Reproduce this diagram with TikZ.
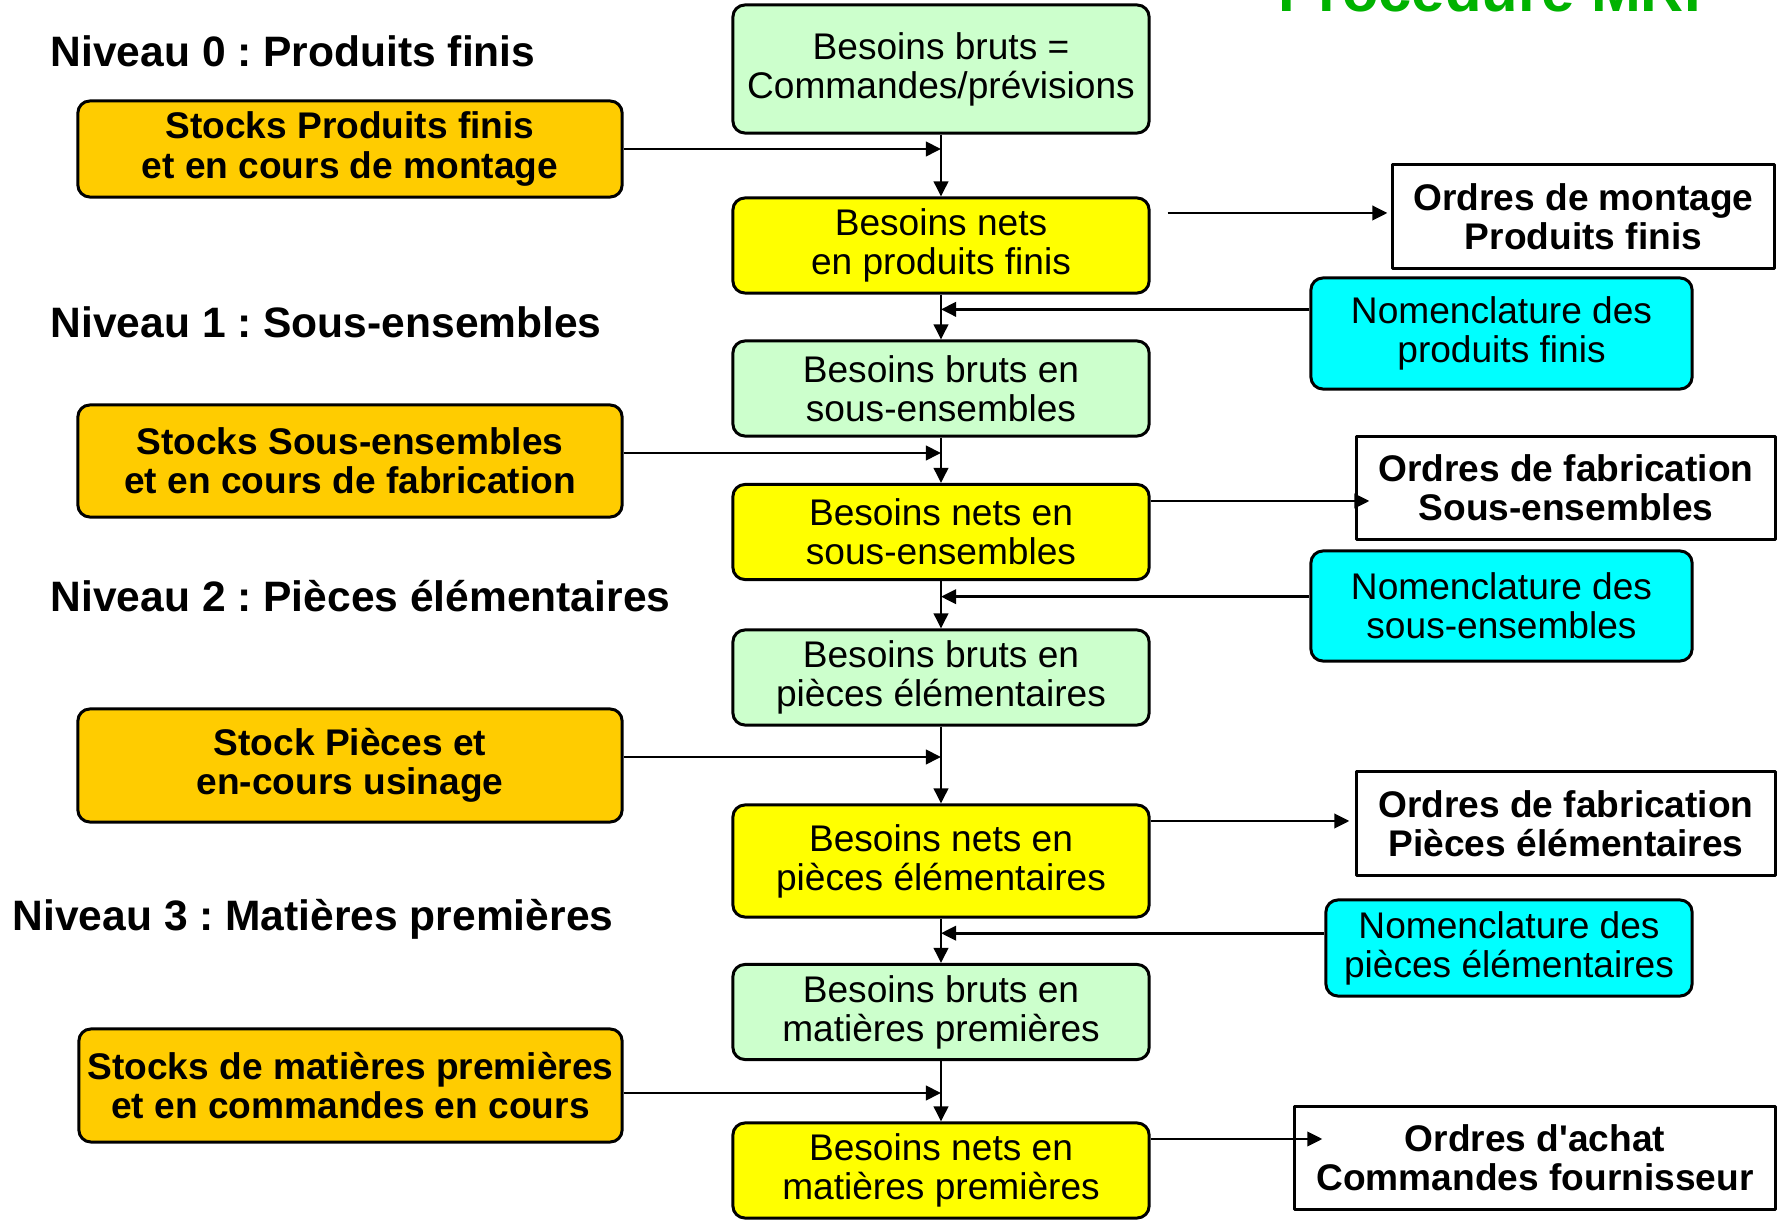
\documentclass[tikz,border=0pt]{standalone}
\usepackage{fontspec}
\setmainfont{Liberation Sans}
\usetikzlibrary{calc,arrows.meta}
\frenchspacing

\definecolor{vertclair}{RGB}{204,255,204}
\definecolor{jaunevif}{RGB}{255,255,0}
\definecolor{orstock}{RGB}{255,204,0}
\definecolor{cyanvif}{RGB}{0,255,255}
\definecolor{vertmrp}{RGB}{0,178,0}

\begin{document}
\begin{tikzpicture}[x={(0.01cm,0cm)}, y={(0cm,-0.01cm)},line join=round,line cap=round,font={\fontsize{10.55}{11.1}\selectfont},
	boite/.style={draw, line width=.85pt, rounded corners=.12cm, align=center, inner sep=0pt},
	brut/.style={boite, fill=vertclair, minimum width=4.16cm, minimum height=.95cm},
	net/.style={boite, fill=jaunevif, minimum width=4.16cm, minimum height=.95cm},
	stock/.style={boite, fill=orstock, font={\fontsize{10.55}{11.1}\selectfont\bfseries}, minimum width=5.44cm, minimum height=1.13cm},
	nomen/.style={boite, fill=cyanvif, minimum width=3.81cm, minimum height=1.1cm},
	ordre/.style={draw, line width=.85pt, align=center, inner sep=0pt, font={\fontsize{10.55}{11.1}\selectfont\bfseries}, minimum height=1.02cm},
	niveau/.style={anchor=base west, inner sep=0pt, font={\fontsize{12.1}{14}\selectfont\bfseries}},
	fleche/.style={->, >={Triangle[length=4.3pt,width=4.1pt]}, line width=.8pt, line cap=butt}]

				% Cadre de l'image
				\useasboundingbox (0,0) rectangle (1787,1225);
				\clip (0,0) rectangle (1787,1225);

				% Titre (coupé en haut)
				\node[anchor=base, text=vertmrp, font={\fontsize{17}{20}\selectfont\bfseries}] (titre) at (1501.5,12) {Procédure MRP};

				% Les niveaux
				\node[niveau] (niv0) at (50,67) {Niveau 0 : Produits finis};
				\node[niveau] (niv1) at (50,338) {Niveau 1 : Sous-ensembles};
				\node[niveau] (niv2) at (50,612) {Niveau 2 : Pièces élémentaires};
				\node[niveau] (niv3) at (12,931) {Niveau 3 : Matières premières};

				% Colonne centrale : besoins bruts et nets
				\node[brut, minimum height=1.28cm] (B0) at (941,69) {Besoins bruts =\\Commandes/prévisions};
				\node[net] (N0) at (941,245.5) {Besoins nets\\en produits finis};
				\node[brut] (B1) at (941,388.5) {Besoins bruts en\\sous-ensembles};
				\node[net] (N1) at (941,532) {Besoins nets en\\sous-ensembles};
				\node[brut] (B2) at (941,677.5) {Besoins bruts en\\pièces élémentaires};
				\node[net, minimum height=1.12cm] (N2) at (941,861) {Besoins nets en\\pièces élémentaires};
				\node[brut] (B3) at (941,1012) {Besoins bruts en\\matières premières};
				\node[net] (N3) at (941,1170.5) {Besoins nets en\\matières premières};

				% Stocks (à gauche)
				\node[stock, minimum height=.96cm] (S0) at (350,149) {Stocks Produits finis\\et en cours de montage};
				\node[stock, minimum height=1.12cm] (S1) at (350,461) {Stocks Sous-ensembles\\et en cours de fabrication};
				\node[stock] (S2) at (350,765.5) {Stock Pièces et\\en-cours usinage};
				\node[stock, minimum width=5.43cm] (S3) at (350.5,1085.5) {Stocks de matières premières\\et en commandes en cours};

				% Nomenclatures (à droite)
				\node[nomen, minimum height=1.11cm] (C0) at (1501.5,333.5) {Nomenclature des\\produits finis};
				\node[nomen] (C1) at (1501.5,606) {Nomenclature des\\sous-ensembles};
				\node[nomen, minimum width=3.66cm, minimum height=.96cm] (C2) at (1509,948) {Nomenclature des\\pièces élémentaires};

				% Ordres lancés
				\node[ordre, minimum width=3.81cm, minimum height=1.03cm] (O0) at (1583.5,216.5) {Ordres de montage\\Produits finis};
				\node[ordre, minimum width=4.18cm] (O1) at (1566,488) {Ordres de fabrication\\Sous-ensembles};
				\node[ordre, minimum width=4.18cm, minimum height=1.03cm] (O2) at (1566,823.5) {Ordres de fabrication\\Pièces élémentaires};
				\node[ordre, minimum width=4.8cm] (O3) at (1535,1158) {Ordres d\textquotesingle achat\\Commandes fournisseur};

				% Enchaînement vertical
				\draw[fleche] (B0) -- (N0);
				\draw[fleche] (N0) -- (B1);
				\draw[fleche] (B1) -- (N1);
				\draw[fleche] (N1) -- (B2);
				\draw[fleche] (B2) -- (N2);
				\draw[fleche] (N2) -- (B3);
				\draw[fleche] (B3) -- (N3);

				% Flèches des stocks
				\coordinate (s0) at (S0.east);
				\coordinate (s1) at ($(S1.east)+(0,-8)$);
				\coordinate (s2) at ($(S2.east)+(0,-8.5)$);
				\coordinate (s3) at ($(S3.east)+(0,7.5)$);
				\draw[fleche] (s0) -- (s0 -| B0.south);
				\draw[fleche] (s1) -- (s1 -| B1.south);
				\draw[fleche] (s2) -- (s2 -| B2.south);
				\draw[fleche] (s3) -- (s3 -| B3.south);

				% Flèches des nomenclatures
				\coordinate (c0) at ($(N0.south)!.33!(B1.north)$);
				\coordinate (c1) at ($(N1.south)!.33!(B2.north)$);
				\coordinate (c2) at ($(N2.south)!.33!(B3.north)$);
				\draw[fleche] (C0.west |- c0) -- (c0);
				\draw[fleche] (C1.west |- c1) -- (c1);
				\draw[fleche] (C2.west |- c2) -- (c2);

				% Flèches vers les ordres
				\coordinate (f0) at ($(O0.west)+(-4,-3.5)$);
				\coordinate (f1) at ($(O1.west)+(14,13)$);
				\coordinate (f2) at ($(O2.west)+(-6,-2.5)$);
				\coordinate (f3) at ($(O3.west)+(29,-19)$);
				\draw[fleche, shorten <=.17cm] (N0.east |- f0) -- (f0);
				\draw[fleche] (N1.east |- f1) -- (f1);
				\draw[fleche] (N2.east |- f2) -- (f2);
				\draw[fleche] (N3.east |- f3) -- (f3);

			\end{tikzpicture}
\end{document}
